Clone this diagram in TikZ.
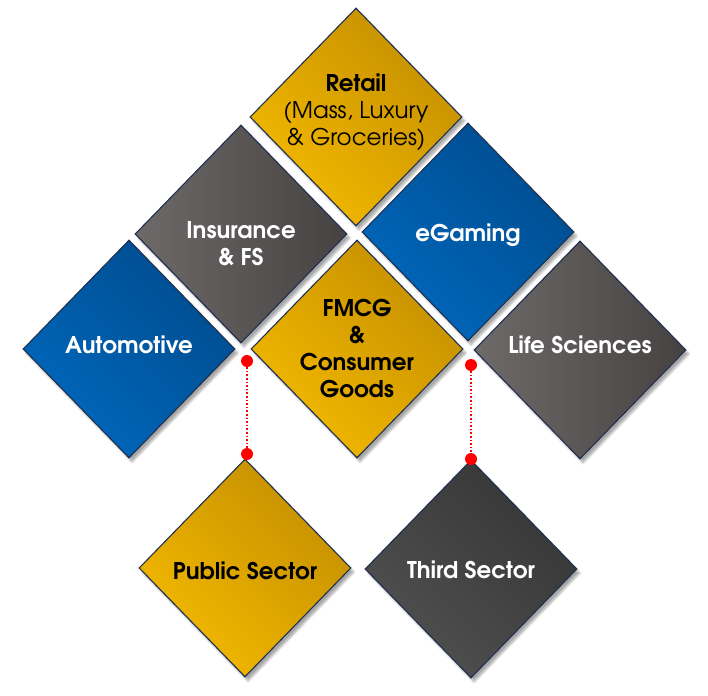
\documentclass[tikz,border=0pt]{standalone}
\usepackage{fontspec}
\setmainfont{TeX Gyre Adventor}
\usetikzlibrary{shapes.geometric,shadows.blur}
\definecolor{golddark}{HTML}{C48F00}
\definecolor{goldlight}{HTML}{F4B900}
\definecolor{bluedark}{HTML}{004C8E}
\definecolor{bluelight}{HTML}{0067BC}
\definecolor{graylight}{HTML}{6E6A6A}
\definecolor{graydark}{HTML}{464242}
\definecolor{charlight}{HTML}{505050}
\definecolor{chardark}{HTML}{363636}
\definecolor{edgenavy}{HTML}{1F3050}
\tikzset{
  dia/.style={diamond, draw=edgenavy, line width=1.1pt, inner sep=0pt,
    minimum width=212pt, minimum height=218pt,
    blur shadow={shadow xshift=3pt, shadow yshift=-4pt, shadow blur steps=6, shadow opacity=35}},
  golddia/.style={dia, top color=golddark, bottom color=goldlight, shading angle=-45},
  bluedia/.style={dia, top color=bluedark, bottom color=bluelight, shading angle=-45},
  graydia/.style={dia, left color=graylight, right color=graydark},
  chardia/.style={dia, top color=chardark, bottom color=charlight, shading angle=-45},
  txt/.style={align=center, inner sep=0pt, font=\fontsize{23}{27}\selectfont\bfseries},
  darktxt/.style={txt, text=black},
  lighttxt/.style={txt, text=white},
  reddot/.style={circle, fill=red, inner sep=0pt, minimum size=12pt},
  reddotted/.style={red, line width=1.6pt, dotted}
}
\begin{document}
\begin{tikzpicture}[x=1pt,y=-1pt]
\useasboundingbox (0,0) rectangle (708,695);
\node[golddia, label={[darktxt, yshift=4.5pt]center:Retail\\{\mdseries (Mass, Luxury}\\{\mdseries \& Groceries)}}] (retail) at (356,117) {};
\node[graydia, label={[lighttxt, yshift=-9.5pt]center:Insurance\\\& FS}] (insurance) at (241,234) {};
\node[bluedia, label={[lighttxt, yshift=-3pt]center:eGaming}] (egaming) at (468,232) {};
\node[bluedia, label={[lighttxt, yshift=4pt]center:Automotive}] (automotive) at (129,349) {};
\node[golddia, label={[darktxt, yshift=1pt]center:FMCG\\\&\\Consumer\\Goods}] (fmcg) at (357,349) {};
\node[graydia, label={[lighttxt, yshift=5pt]center:Life Sciences}] (life) at (580,350) {};
\node[golddia, label={[darktxt, yshift=-3pt]center:Public Sector}] (public) at (245,568) {};
\node[chardia, label={[lighttxt, yshift=-1pt]center:Third Sector}] (third) at (471,569) {};
\node[reddot] (d1) at (247,361) {};
\node[reddot] (d2) at (247,454) {};
\node[reddot] (d3) at (471,365) {};
\node[reddot] (d4) at (471,459) {};
\draw[reddotted] (d1) -- (d2);
\draw[reddotted] (d3) -- (d4);
\end{tikzpicture}
\end{document}
